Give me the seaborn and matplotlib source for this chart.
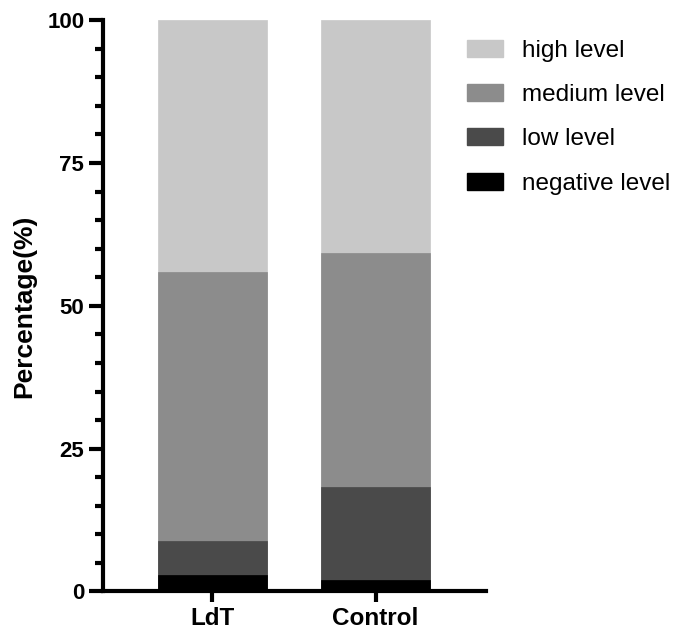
import pandas as pd
import matplotlib.pyplot as plt
import matplotlib.patches as mpatches
import numpy as np
import seaborn as sns

# Données (en %)
groups = ["LdT", "Control"]
levels = ["negative level", "low level", "medium level", "high level"]
negative = [2.8, 2.0]
low = [6.0, 16.3]
medium = [47.1, 40.9]
high = [44.1, 40.8]
colors = ["#000000", "#4a4a4a", "#8c8c8c", "#c8c8c8"]

sns.set_style("ticks")
plt.rcParams['font.family'] = ['Liberation Sans', 'DejaVu Sans']
plt.rcParams['text.color'] = 'black'
plt.rcParams['axes.labelcolor'] = 'black'
plt.rcParams['xtick.color'] = 'black'
plt.rcParams['ytick.color'] = 'black'

df = pd.DataFrame({"group": groups, "negative level": negative, "low level": low,
                   "medium level": medium, "high level": high})
# cumul pour empiler les barres
cum = df[levels].cumsum(axis=1)

fig = plt.figure(figsize=(6.79, 6.33), dpi=100)
ax = fig.add_axes([0.1517, 0.0656, 0.5641, 0.9024])

for lvl, col in reversed(list(zip(levels, colors))):
    d = pd.DataFrame({"group": df["group"], "val": cum[lvl]})
    sns.barplot(data=d, x="group", y="val", color=col, width=0.668,
                saturation=1, ax=ax, edgecolor=col, linewidth=0.5)

ax.set_xlim(-0.67, 1.677)
ax.set_ylim(0, 100)
ax.set_yticks([0, 25, 50, 75, 100])
ax.set_yticks(np.arange(0, 101, 5), minor=True)
ax.set_xlabel("")
ax.set_ylabel("Percentage(%)", fontsize=19, fontweight='bold', labelpad=8)
for lab in ax.get_yticklabels():
    lab.set_fontweight('bold')
    lab.set_fontsize(16)
for lab in ax.get_xticklabels():
    lab.set_fontweight('bold')
    lab.set_fontsize(17.5)
ax.tick_params(axis='both', which='major', width=3, length=10, color='black')
ax.tick_params(axis='y', which='minor', width=3, length=6)
ax.tick_params(axis='x', length=8, pad=3)
sns.despine(ax=ax)
for s in ["left", "bottom"]:
    ax.spines[s].set_linewidth(3)
    ax.spines[s].set_color('black')

handles = [mpatches.Patch(color=c, label=l) for l, c in zip(levels, colors)][::-1]
fig.legend(handles=handles, loc="upper left", bbox_to_anchor=(0.656, 0.972),
           frameon=False, fontsize=17.5, handlelength=1.45, handleheight=0.7,
           labelspacing=0.92, handletextpad=0.8)

plt.savefig("out.png", dpi=100)
